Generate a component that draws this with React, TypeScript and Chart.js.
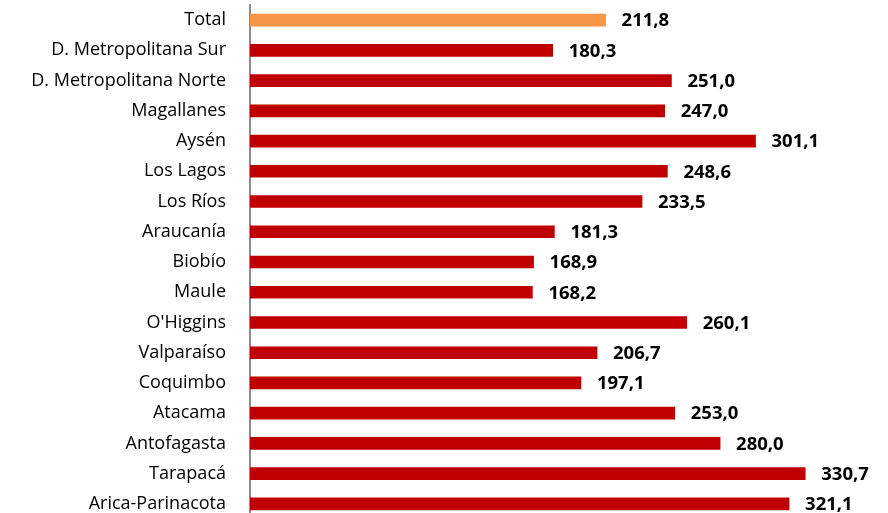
import React, { useEffect, useRef } from "react";
import { Chart, registerables } from "chart.js";

Chart.register(...registerables);

const categories = [
  "Total",
  "D. Metropolitana Sur",
  "D. Metropolitana Norte",
  "Magallanes",
  "Aysén",
  "Los Lagos",
  "Los Ríos",
  "Araucanía",
  "Biobío",
  "Maule",
  "O'Higgins",
  "Valparaíso",
  "Coquimbo",
  "Atacama",
  "Antofagasta",
  "Tarapacá",
  "Arica-Parinacota",
];

const values = [
  211.8, 180.3, 251.0, 247.0, 301.1, 248.6, 233.5, 181.3, 168.9, 168.2, 260.1,
  206.7, 197.1, 253.0, 280.0, 330.7, 321.1,
];

const barColors = categories.map((c) => (c === "Total" ? "#F79646" : "#C00000"));

const valueLabels = {
  id: "valueLabels",
  afterDatasetsDraw(chart: any) {
    const ctx = chart.ctx;
    const meta = chart.getDatasetMeta(0);
    ctx.save();
    ctx.font = "bold 18.5px 'Open Sans', sans-serif";
    ctx.fillStyle = "#000";
    ctx.textAlign = "left";
    ctx.textBaseline = "middle";
    meta.data.forEach((el: any, i: number) => {
      const txt = values[i].toFixed(1).replace(".", ",");
      ctx.fillText(txt, el.x + 16, el.y + 1);
    });
    ctx.restore();
  },
};

export default function App() {
  const ref = useRef<HTMLCanvasElement>(null);
  useEffect(() => {
    if (!ref.current) return;
    const chart = new Chart(ref.current, {
      type: "bar",
      data: {
        labels: categories,
        datasets: [
          {
            data: values,
            backgroundColor: barColors,
            barThickness: 12,
          },
        ],
      },
      options: {
        indexAxis: "y",
        animation: false,
        responsive: true,
        maintainAspectRatio: false,
        layout: { padding: { top: 5, bottom: 6, left: 0, right: 0 } },
        plugins: { legend: { display: false }, tooltip: { enabled: false } },
        scales: {
          x: { display: false, min: 0, max: 380 },
          y: {
            grid: { display: false, drawTicks: false },
            border: { display: true, color: "#8c8c8c", width: 2 },
            ticks: {
              color: "#000",
              font: { family: "'Open Sans', sans-serif", size: 18 },
              padding: 24,
              autoSkip: false,
            },
            afterFit(scale: any) {
              scale.width = 250;
              scale.paddingTop = 0;
              scale.paddingBottom = 0;
            },
          },
        },
      },
      plugins: [valueLabels],
    });
    return () => chart.destroy();
  }, []);
  return (
    <div style={{ position: "fixed", left: 0, top: 0, width: 888, height: 525, background: "#fff" }}>
      <canvas ref={ref} />
    </div>
  );
}
